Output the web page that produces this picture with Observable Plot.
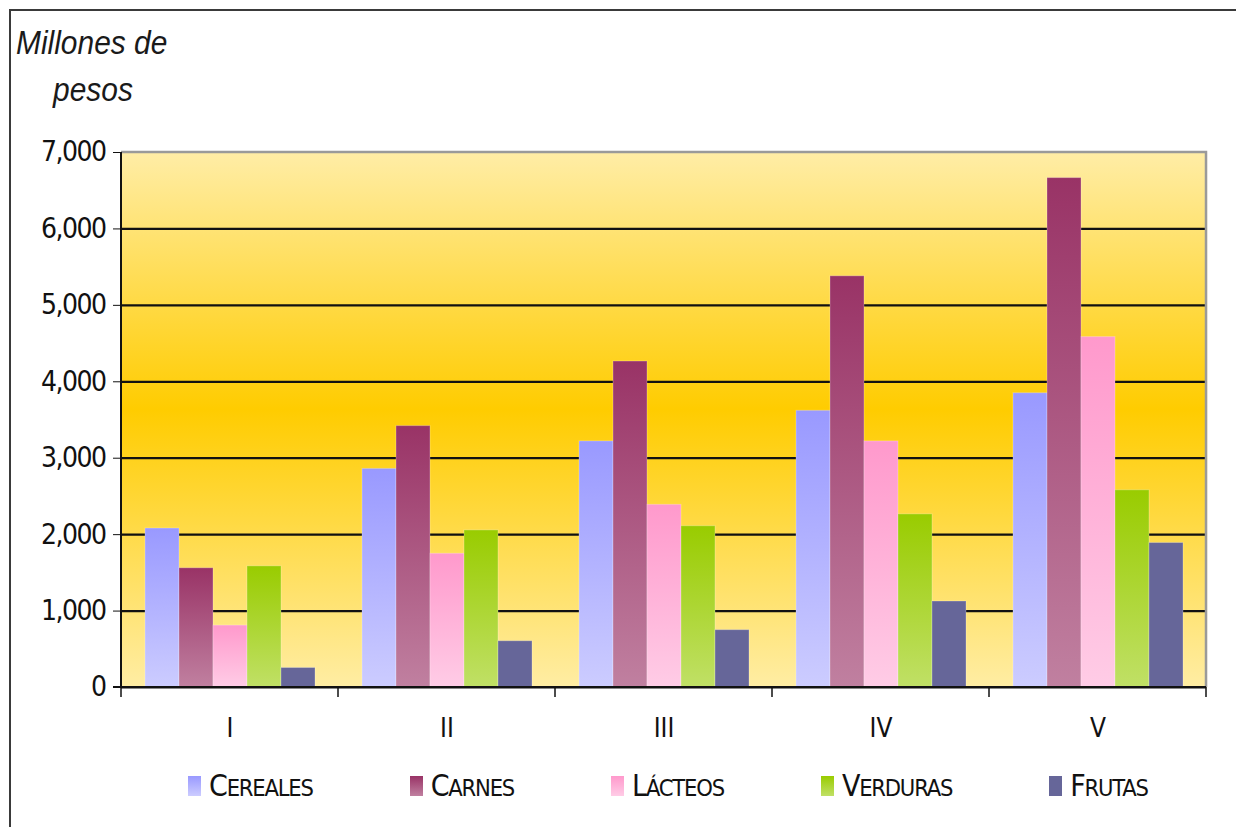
<!DOCTYPE html>
<html>
<head>
<meta charset="utf-8">
<script src="https://cdn.jsdelivr.net/npm/d3@7"></script>
<script src="https://cdn.jsdelivr.net/npm/@observablehq/plot@0.6"></script>
<style>
  html, body { margin: 0; padding: 0; background: #fff; width: 1236px; height: 827px; overflow: hidden; }
  #frame { position: absolute; left: 9px; top: 9px; width: 1300px; height: 900px; border: 2px solid #3a3a3a; box-sizing: border-box; }
  .title { position: absolute; font-family: "Liberation Sans", Arial, sans-serif; font-style: italic; font-size: 34px; color: #1a1a1a; line-height: 1; transform-origin: 0 0; transform: scaleX(0.88); }
  #chart { position: absolute; left: 0; top: 120px; }
  #chart svg g[aria-label^="y-axis"] text { font-size: 28px; letter-spacing: -1.5px; }
  #chart svg g[aria-label^="fx-axis"] text { font-size: 26px; }
  #legend { position: absolute; left: 188px; top: 768px; display: flex; gap: 97px; align-items: center;
            font-family: "DejaVu Sans Condensed", "Liberation Sans", sans-serif; color: #111; letter-spacing: -1.2px; }
  .item { display: flex; align-items: center; gap: 8px; }
  .item svg { display: block; }
  .big { font-size: 30px; }
  .small { font-size: 23.5px; text-transform: uppercase; }
</style>
</head>
<body>
<svg width="0" height="0" style="position:absolute">
  <defs>
    <linearGradient id="bgGrad" x1="0" y1="0" x2="0" y2="1">
      <stop offset="0" stop-color="#FFEDA6"/>
      <stop offset="0.48" stop-color="#FFCC00"/>
      <stop offset="1" stop-color="#FFEDA4"/>
    </linearGradient>
    <linearGradient id="gCereales" x1="0" y1="0" x2="0" y2="1">
      <stop offset="0" stop-color="#9999FF"/><stop offset="1" stop-color="#CCCCFF"/>
    </linearGradient>
    <linearGradient id="gCarnes" x1="0" y1="0" x2="0" y2="1">
      <stop offset="0" stop-color="#993366"/><stop offset="1" stop-color="#C080A0"/>
    </linearGradient>
    <linearGradient id="gLacteos" x1="0" y1="0" x2="0" y2="1">
      <stop offset="0" stop-color="#FF99CC"/><stop offset="1" stop-color="#FFCCE6"/>
    </linearGradient>
    <linearGradient id="gVerduras" x1="0" y1="0" x2="0" y2="1">
      <stop offset="0" stop-color="#99CC00"/><stop offset="1" stop-color="#C0E066"/>
    </linearGradient>
    <linearGradient id="gFrutas" x1="0" y1="0" x2="0" y2="1">
      <stop offset="0" stop-color="#666699"/><stop offset="1" stop-color="#666699"/>
    </linearGradient>
  </defs>
</svg>
<div id="frame"></div>
<div class="title" style="left:16px; top:25px;">Millones de</div>
<div class="title" style="left:53px; top:72px;">pesos</div>
<div id="chart"></div>
<div id="legend"></div>
<script>
const quarters = ["I", "II", "III", "IV", "V"];
const series = ["Cereales", "Carnes", "Lácteos", "Verduras", "Frutas"];
const cereales = [2080, 2860, 3220, 3620, 3850];
const carnes   = [1560, 3420, 4265, 5380, 6665];
const lacteos  = [810, 1750, 2390, 3220, 4585];
const verduras = [1585, 2055, 2110, 2265, 2580];
const frutas   = [255, 605, 750, 1125, 1890];
const yTicks = [0, 1000, 2000, 3000, 4000, 5000, 6000, 7000];
const gridValues = [1000, 2000, 3000, 4000, 5000, 6000];
const fills = ["url(#gCereales)", "url(#gCarnes)", "url(#gLacteos)", "url(#gVerduras)", "url(#gFrutas)"];

const valuesBySeries = [cereales, carnes, lacteos, verduras, frutas];
const data = [];
quarters.forEach((q, i) => {
  series.forEach((s, j) => data.push({quarter: q, series: s, value: valuesBySeries[j][i]}));
});

const W = 1236, H = 640;
const plot = Plot.plot({
  width: W,
  height: H,
  marginTop: 32,
  marginBottom: 73,
  marginLeft: 120,
  marginRight: 29,
  style: {fontFamily: '"DejaVu Sans Condensed", "Liberation Sans", sans-serif', color: "#111", background: "transparent", overflow: "visible"},
  facet: {data, x: "quarter", marginBottom: 73},
  fx: {domain: quarters, padding: 0, label: null, tickSize: 0, tickPadding: 31},
  x: {domain: series, axis: null, paddingInner: 0, paddingOuter: 0.64},
  y: {domain: [0, 7000], ticks: yTicks, tickFormat: d3.format(","), label: null, tickSize: 8, tickPadding: 8},
  color: {domain: series, range: fills},
  marks: [
    Plot.frame({fill: "url(#bgGrad)", stroke: "none", insetLeft: -0.6, insetRight: -0.6}),
    Plot.ruleY(gridValues, {stroke: "#111", strokeWidth: 2.2}),
    Plot.barY(data, {x: "series", y: "value", fill: "series", inset: 0, stroke: "#ffffff", strokeOpacity: 0.25, strokeWidth: 1}),
    Plot.ruleY([0], {stroke: "#111", strokeWidth: 2.2})
  ]
});
document.getElementById("chart").appendChild(plot);

// Axis decorations derived from the plot's own scales
const fx = plot.scale("fx");
const y = plot.scale("y");
const svg = d3.select(plot);
const y0 = y.apply(0), y7 = y.apply(7000);
const left = fx.apply(quarters[0]);
const right = fx.apply(quarters[quarters.length - 1]) + fx.bandwidth;
const deco = svg.append("g");
deco.append("path").attr("d", `M${left},${y7}H${right}V${y0}`).attr("fill", "none").attr("stroke", "#9a9a9a").attr("stroke-width", 2.5);
deco.append("line").attr("x1", left).attr("x2", left).attr("y1", y7).attr("y2", y0 + 1).attr("stroke", "#111").attr("stroke-width", 2);
const bounds = quarters.map(q => fx.apply(q)).concat([right]);
deco.selectAll("line.b").data(bounds).join("line").attr("class", "b")
  .attr("x1", d => d).attr("x2", d => d).attr("y1", y0).attr("y2", y0 + 10)
  .attr("stroke", "#111").attr("stroke-width", 1.5);
deco.append("line").attr("x1", left - 8).attr("x2", right).attr("y1", y0).attr("y2", y0).attr("stroke", "#111").attr("stroke-width", 2.2);

// Legend
const legend = d3.select("#legend");
const color = plot.scale("color");
series.forEach((s) => {
  const item = legend.append("div").attr("class", "item");
  const sw = item.append("svg").attr("width", 13).attr("height", 20);
  sw.append("rect").attr("width", 13).attr("height", 20).attr("fill", color.apply(s));
  const label = item.append("span");
  label.append("span").attr("class", "big").text(s.charAt(0));
  label.append("span").attr("class", "small").text(s.slice(1));
});
</script>
</body>
</html>
